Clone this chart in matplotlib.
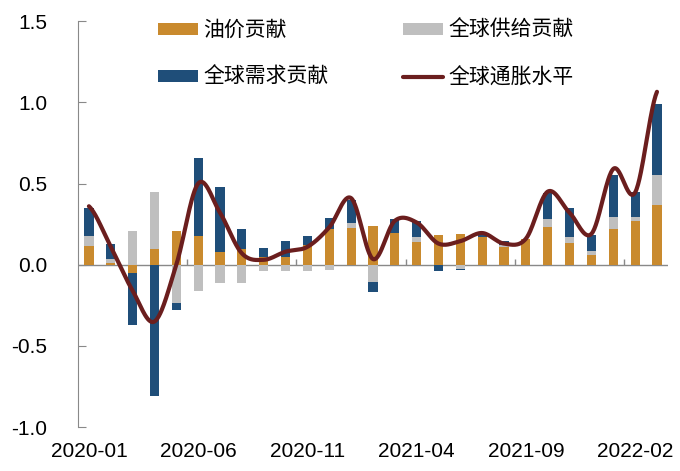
import numpy as np
import pandas as pd
import matplotlib
matplotlib.use("Agg")
import matplotlib.pyplot as plt

plt.rcParams['font.family'] = ['Liberation Sans', 'Noto Sans CJK SC']

# 月份 2020-01 ~ 2022-03
months = pd.date_range("2020-01-01", "2022-03-01", freq="MS").strftime("%Y-%m").tolist()

oil = [0.113, 0.011, -0.05, 0.095, 0.206, 0.174, 0.076, 0.094, 0.047, 0.047,
       0.12, 0.22, 0.225, 0.24, 0.196, 0.14, 0.185, 0.19, 0.17, 0.11,
       0.16, 0.235, 0.135, 0.06, 0.217, 0.27, 0.365]
supply = [0.061, 0.027, 0.206, 0.355, -0.235, -0.162, -0.113, -0.113, -0.04, -0.04,
          -0.04, -0.03, 0.03, -0.108, 0.0, 0.03, 0.0, -0.025, 0.0, 0.01,
          0.0, 0.045, 0.035, 0.025, 0.078, 0.025, 0.185]
demand = [0.176, 0.088, -0.32, -0.81, -0.045, 0.482, 0.404, 0.123, 0.058, 0.096,
          0.055, 0.07, 0.145, -0.062, 0.088, 0.10, -0.04, -0.005, 0.025, 0.023,
          0.0, 0.16, 0.18, 0.10, 0.255, 0.15, 0.44]
inflation = [0.36, 0.11, -0.16, -0.35, 0.0, 0.50, 0.32, 0.07, 0.03, 0.08,
             0.11, 0.23, 0.41, 0.035, 0.27, 0.26, 0.13, 0.145, 0.195, 0.13,
             0.16, 0.45, 0.32, 0.19, 0.59, 0.445, 1.065]

series = [("油价贡献", oil, "#C98A2E"),
          ("全球供给贡献", supply, "#BFBFBF"),
          ("全球需求贡献", demand, "#1F4E79")]


def smooth(y, n=30):
    # courbe lissée type Catmull-Rom (comme le lissage d'Excel)
    y = np.asarray(y, dtype=float)
    p = np.concatenate([[y[0]], y, [y[-1]]])
    xs, ys = [], []
    for i in range(len(y) - 1):
        p0, p1, p2, p3 = p[i], p[i + 1], p[i + 2], p[i + 3]
        t = np.linspace(0, 1, n, endpoint=False)
        v = 0.5 * (2 * p1 + (-p0 + p2) * t + (2 * p0 - 5 * p1 + 4 * p2 - p3) * t ** 2
                   + (-p0 + 3 * p1 - 3 * p2 + p3) * t ** 3)
        xs.append(i + t)
        ys.append(v)
    xs.append([len(y) - 1])
    ys.append([y[-1]])
    return np.concatenate(xs), np.concatenate(ys)


fig = plt.figure(figsize=(6.8, 4.71), dpi=100)
ax = fig.add_axes([0.1147, 0.0934, 0.8675, 0.8616])

x = np.arange(len(months))
pos = np.zeros(len(x))
neg = np.zeros(len(x))
handles = []
for name, vals, color in series:
    vals = np.asarray(vals)
    bottom = np.where(vals >= 0, pos, neg)
    b = ax.bar(x, vals, width=0.42, bottom=bottom, color=color, label=name, zorder=2)
    handles.append(b)
    pos = pos + np.where(vals >= 0, vals, 0)
    neg = neg + np.where(vals < 0, vals, 0)

lx, ly = smooth(inflation)
line, = ax.plot(lx, ly, color="#6B1E1E", lw=3, label="全球通胀水平", zorder=3,
                solid_capstyle='round')

ax.set_xlim(-0.5, len(x) - 0.5)
ax.set_ylim(-1.0, 1.5)
ax.set_yticks([-1.0, -0.5, 0.0, 0.5, 1.0, 1.5])
ax.set_yticklabels(["-1.0", "-0.5", "0.0", "0.5", "1.0", "1.5"])
ax.set_xticks(x[::5])
ax.set_xticklabels(months[::5])

for s in ["top", "right", "bottom"]:
    ax.spines[s].set_visible(False)
ax.spines["left"].set_color("#898989")
ax.axhline(0, color="#898989", lw=1, zorder=1)
ax.vlines(x[4::5] + 0.5, 0, 0.035, color="#898989", lw=1, zorder=1)

ax.tick_params(axis="y", direction="in", length=6, color="#898989", pad=22, labelsize=15)
ax.tick_params(axis="x", length=0, pad=11, labelsize=15)

# ordre colonne par colonne : 油价 / 需求 puis 供给 / 通胀
ax.legend([handles[0], handles[2], handles[1], line],
          ["油价贡献", "全球需求贡献", "全球供给贡献", "全球通胀水平"],
          ncol=2, loc="upper left", bbox_to_anchor=(0.136, 1.003),
          frameon=False, fontsize=15, handlelength=1.9, handleheight=0.5,
          handletextpad=0.25, labelspacing=1.3, columnspacing=3.6, borderpad=0,
          borderaxespad=0)

plt.savefig("out.png", dpi=100)
